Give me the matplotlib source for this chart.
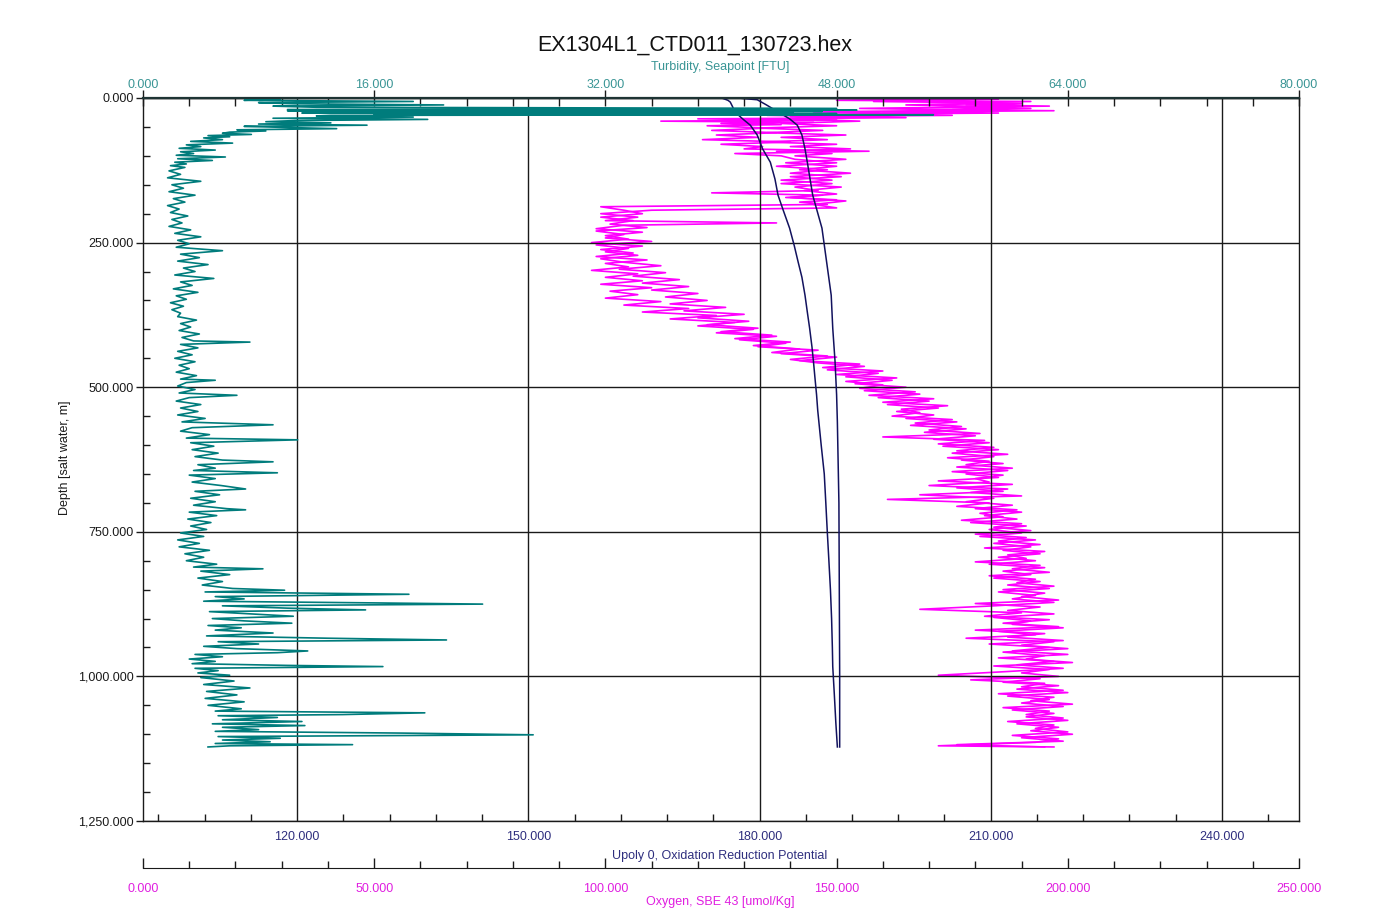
import matplotlib

matplotlib.use("Agg")
import matplotlib.pyplot as plt
from matplotlib.ticker import FixedLocator, FuncFormatter, MultipleLocator

plt.rcParams["font.family"] = ["Liberation Sans", "DejaVu Sans"]

TITLE = "EX1304L1_CTD011_130723.hex"
TURB_LABEL = "Turbidity, Seapoint [FTU]"
ORP_LABEL = "Upoly 0, Oxidation Reduction Potential"
OXY_LABEL = "Oxygen, SBE 43 [umol/Kg]"
DEPTH_LABEL = "Depth [salt water, m]"

# --- turbidity profile (FTU) ---
TURB_DEPTH = [
    0, 2, 4, 6, 8, 10, 12, 14, 16, 18, 20,
    21, 22, 23, 24, 25, 26, 27, 28, 29, 30, 31,
    33, 35, 37, 39, 41, 43, 45, 47, 49, 51, 53,
    55, 57, 59, 61, 63, 65, 67, 69, 72, 75,
    78, 81, 84, 87, 90, 93, 96, 99, 102, 105,
    108, 111, 114, 117, 120, 126, 132, 138, 144, 150,
    156, 162, 168, 174, 180, 186, 192, 198, 204, 210,
    216, 222, 228, 234, 240, 246, 252, 258, 264, 270,
    276, 282, 288, 294, 300, 306, 312, 318, 324, 330,
    336, 342, 348, 354, 360, 366, 372, 378, 384, 390,
    396, 402, 408, 414, 420, 422, 426, 432, 438, 444,
    450, 456, 462, 468, 474, 480, 486, 488, 492, 498,
    504, 510, 514, 518, 524, 530, 536, 542, 548, 554,
    560, 565, 570, 576, 582, 588, 591, 596, 602, 608,
    614, 620, 626, 629, 634, 640, 644, 648, 652, 658, 664,
    670, 676, 680, 686, 692, 698, 704, 710, 712, 716, 722,
    728, 734, 740, 746, 752, 758, 764, 770, 776, 782, 788, 794,
    800, 806, 811, 814, 818, 824, 830, 836, 842, 848, 851, 854, 858,
    862, 866, 870, 873, 875, 878, 882, 885, 888, 892, 896, 900, 904,
    908, 912, 916, 920, 925, 930, 934, 937, 940, 944, 948, 952, 956, 959, 962,
    966, 970, 974, 978, 981, 983, 986, 990, 994, 998, 1002, 1008, 1014, 1020, 1026,
    1032, 1038, 1044, 1050, 1056, 1060, 1063, 1066, 1068, 1071, 1075, 1078, 1082, 1085, 1088,
    1092, 1095, 1098, 1101, 1104, 1107, 1110, 1113, 1116, 1118, 1120, 1122,
]
TURB_FTU = [
    6.7, 9.5, 7.0, 18.7, 8.0, 10.5, 20.8, 9.0, 12.0, 48.0, 10.0,
    49.4, 10.0, 47.0, 12.0, 45.0, 11.0, 48.0, 16.0, 54.7, 13.0, 12.0,
    18.7, 9.0, 19.7, 10.5, 8.5, 13.0, 8.0, 15.5, 7.0, 10.0, 13.4,
    6.5, 8.5, 6.0, 5.5, 7.5, 4.5, 6.0, 4.2, 5.5, 3.3,
    6.2, 3.0, 4.0, 2.5, 5.0, 2.6, 3.5, 2.3, 5.7, 2.4,
    4.8, 2.2, 3.0, 1.9, 2.9, 1.8, 2.6, 1.7, 4.0, 2.0,
    2.8, 1.8, 3.6, 2.1, 2.9, 1.7, 2.5, 1.9, 3.1, 2.0,
    2.7, 1.8, 3.3, 2.2, 4.0, 2.4, 3.2, 2.3, 5.5, 2.6,
    3.9, 2.4, 4.5, 2.8, 3.6, 2.2, 4.9, 2.6, 3.4, 2.1,
    3.8, 2.3, 3.0, 1.9, 2.8, 2.0, 2.6, 2.4, 3.7, 2.6,
    3.3, 2.5, 3.9, 2.7, 3.5, 7.4, 2.6, 3.8, 2.4, 3.4,
    2.2, 3.6, 2.5, 3.2, 2.3, 3.7, 2.6, 5.0, 3.0, 2.4,
    3.6, 2.5, 6.5, 3.2, 2.3, 4.0, 2.6, 3.8, 2.4, 4.3,
    2.7, 9.0, 3.4, 2.6, 4.6, 3.0, 10.7, 3.3, 4.9, 3.4,
    5.2, 3.6, 5.5, 9.0, 3.8, 5.0, 3.5, 9.3, 3.2, 5.0, 3.4,
    5.4, 7.1, 3.6, 5.3, 3.3, 5.0, 3.5, 5.8, 7.1, 3.2, 5.1,
    3.1, 4.7, 3.3, 4.4, 2.6, 4.2, 2.4, 3.9, 2.5, 4.6, 2.9, 4.2,
    3.0, 5.1, 3.5, 8.3, 4.0, 6.0, 3.8, 5.5, 4.1, 6.2, 9.8, 4.3, 18.4,
    5.0, 7.0, 4.2, 16.3, 23.5, 5.5, 10.0, 15.4, 4.6, 7.5, 10.4, 4.8, 7.0,
    10.3, 4.5, 6.8, 5.0, 9.0, 4.4, 12.8, 21.0, 5.2, 8.0, 4.2, 6.5, 11.4, 9.3, 3.6,
    5.5, 3.2, 5.0, 3.4, 10.0, 16.6, 3.6, 5.2, 3.8, 6.0, 4.0, 6.3, 4.2, 7.4, 4.4,
    6.5, 4.3, 7.0, 4.5, 6.8, 5.0, 19.5, 13.8, 5.2, 9.3, 5.5, 11.0, 4.8, 11.2, 5.5,
    8.0, 5.0, 17.9, 27.0, 5.2, 9.5, 5.5, 8.8, 5.0, 14.5, 6.0, 4.5,
]

# --- oxygen, downcast (umol/kg) ---
OXY_D_DEPTH = [
    0, 2, 4, 6, 8, 10, 12, 14, 16, 18, 20, 22, 24, 26, 28, 30, 32, 34, 36, 38, 40, 42, 44,
    46, 48, 52, 56, 60, 64, 68, 72, 76, 80, 84, 88, 92, 96, 100,
    106, 112, 118, 124, 130, 136, 142, 148, 154, 160, 164, 168, 172, 176, 180, 184,
    188, 194, 200, 206, 212, 218, 224, 230, 236, 242, 248, 254, 260, 266, 272, 278,
    284, 290, 296, 302, 308, 314, 320, 326, 332, 338, 344, 350, 356, 362, 368,
    374, 380, 386, 392, 398, 404, 410, 416, 422, 428, 434, 440, 446, 452,
    458, 464, 470, 476, 482, 488, 494, 500, 506, 512, 518, 524, 530, 536, 542,
    548, 554, 560, 566, 572, 578, 584, 590, 596, 602,
    608, 614, 620, 626, 632, 638, 644, 650, 656, 662, 668, 674, 680, 686, 692,
    698, 704, 710, 716, 722, 728, 734, 740, 746, 752,
    758, 764, 770, 776, 782, 788, 794, 800, 806, 812, 818, 824, 830, 836, 842,
    848, 854, 860, 866, 872, 878, 884, 890, 896, 902,
    908, 914, 920, 926, 932, 938, 944, 950, 956, 962, 968, 974, 980, 986, 992,
    998, 1004, 1010, 1016, 1022, 1028, 1034, 1040, 1046, 1052,
    1058, 1064, 1070, 1076, 1082, 1088, 1094, 1100, 1106, 1112, 1118, 1122,
]
OXY_D = [
    160, 185, 150, 192, 170, 190, 178, 196, 175, 192, 168, 197, 160, 185, 150, 175, 140, 165, 120, 150, 112, 145, 125,
    138, 122, 135, 123, 137, 124, 133, 121, 140, 125, 134, 130, 157, 128, 138,
    141, 150, 137, 148, 140, 151, 138, 149, 141, 146, 123, 147, 139, 150, 142, 148,
    99, 104, 108, 99, 106, 101, 109, 98, 104, 100, 110, 98, 105, 100, 107, 99,
    104, 112, 103, 113, 106, 116, 108, 118, 110, 120, 113, 122, 114, 126, 117,
    130, 120, 131, 122, 133, 125, 136, 128, 140, 132, 142, 136, 148, 140,
    146, 156, 148, 159, 152, 162, 154, 165, 156, 168, 159, 170, 161, 172, 163,
    171, 165, 176, 166, 178, 169, 180, 171, 183, 173,
    185, 175, 184, 177, 186, 176, 187, 178, 185, 172, 188, 176, 186, 168, 184,
    178, 188, 180, 190, 182, 189, 179, 191, 183, 190,
    181, 193, 184, 192, 186, 194, 185, 193, 183, 195, 186, 192, 184, 194, 187,
    196, 185, 193, 188, 197, 184, 168, 190, 182, 196,
    186, 198, 180, 195, 187, 199, 183, 196, 188, 200, 185, 197, 189, 199, 186,
    172, 194, 186, 198, 189, 200, 187, 196, 190, 199,
    188, 197, 191, 200, 189, 198, 192, 201, 190, 199, 176, 195,
]

# --- oxygen, upcast (umol/kg) ---
OXY_U_DEPTH = [
    0, 3, 6, 9, 12, 15, 18, 21, 24, 27, 30, 33, 36,
    40, 44, 48, 52, 56, 60, 64, 68, 72, 76, 80, 84, 88, 92, 96, 100,
    106, 112, 118, 124, 130, 136, 142, 148, 154, 160, 166, 172, 178, 184, 190, 194,
    200, 206, 212, 216, 220, 226, 232, 238, 244, 250, 256, 262, 268,
    274, 280, 286, 292, 298, 304, 310, 316, 322, 328, 334, 340, 346,
    352, 358, 364, 370, 376, 382, 388, 394, 400, 406, 412, 418, 424, 430, 436, 442, 448, 454,
    460, 466, 472, 478, 484, 490, 496, 502, 508, 514, 520, 526, 532, 538, 544,
    550, 556, 562, 568, 574, 580, 586, 592, 598, 604,
    610, 616, 622, 628, 634, 640, 646, 652, 658, 664, 670, 676, 682, 688, 694,
    700, 706, 712, 718, 724, 730, 736, 742, 748, 754,
    760, 766, 772, 778, 784, 790, 796, 802, 808, 814, 820, 826, 832, 838, 844,
    850, 856, 862, 868, 874, 880, 886, 892, 898, 904,
    910, 916, 922, 928, 934, 940, 946, 952, 958, 964, 970, 976, 982, 988, 994,
    1000, 1006, 1012, 1018, 1024, 1030, 1036, 1042, 1048, 1054,
    1060, 1066, 1072, 1078, 1084, 1090, 1096, 1102, 1108, 1114, 1120, 1122,
]
OXY_U = [
    145, 175, 158, 190, 165, 185, 155, 180, 145, 170, 135, 160, 140,
    155, 138, 150, 133, 147, 135, 152, 138, 148, 134, 150, 140, 153, 137, 149, 141,
    152, 139, 150, 142, 153, 140, 149, 138, 151, 143, 150, 140, 152, 145, 150, 110,
    99, 107, 100, 137, 104, 98, 108, 100, 105, 97, 108, 99, 106,
    98, 109, 100, 105, 97, 107, 100, 108, 99, 110, 101, 107, 100,
    112, 104, 118, 108, 124, 114, 128, 120, 132, 124, 137, 129, 139, 133, 146, 138, 150, 142,
    155, 147, 160, 150, 163, 152, 160, 155, 167, 157, 171, 160, 174, 164, 168,
    162, 175, 167, 177, 170, 181, 160, 182, 172, 184,
    176, 187, 174, 183, 178, 188, 175, 186, 180, 183, 170, 187, 179, 190, 161,
    183, 176, 189, 181, 186, 177, 190, 184, 192, 180,
    191, 185, 194, 182, 195, 187, 191, 180, 194, 188, 196, 183, 193, 189, 197,
    186, 195, 190, 198, 180, 194, 187, 197, 184, 192,
    188, 199, 185, 193, 178, 197, 190, 200, 186, 195, 191, 201, 184, 196, 190,
    198, 179, 195, 190, 199, 185, 197, 192, 201, 186,
    196, 191, 199, 187, 197, 193, 200, 188, 198, 193, 172, 197,
]

# --- oxidation reduction potential, two casts ---
ORP_D_DEPTH = [0, 4, 7, 15, 24, 36, 47, 64, 88, 111, 140, 168, 195, 225, 255,
               283, 310, 341, 370, 398, 430, 456, 485, 513, 540, 560, 600, 650,
               700, 752, 800, 850, 900, 950, 983, 1030, 1080, 1122]
ORP_D = [175.1, 175.9, 176.2, 176.5, 176.8, 177.8, 178.8, 179.7, 180.4, 181.4,
         182.0, 182.4, 183.1, 183.9, 184.5, 185.0, 185.5, 185.9, 186.2, 186.5,
         186.8, 187.0, 187.2, 187.4, 187.55, 187.7, 188.0, 188.4, 188.6, 188.8,
         189.0, 189.2, 189.35, 189.45, 189.5, 189.7, 189.9, 190.1]
ORP_U_DEPTH = [0, 1, 3, 12, 24, 36, 47, 64, 88, 111, 168, 225, 283, 341, 398,
               456, 513, 560, 700, 850, 1000, 1122]
ORP_U = [177.3, 177.9, 179.7, 180.9, 182.4, 183.9, 184.9, 185.5, 185.9, 186.2,
         186.9, 188.1, 188.7, 189.3, 189.5, 189.8, 190.0, 190.1, 190.3, 190.35,
         190.4, 190.4]

TEAL, TEAL_TXT = "#007C7C", "#3A9595"
NAVY, NAVY_TXT = "#12125E", "#2E2E7E"
MAGENTA, MAG_TXT = "#FF00FF", "#E01FE0"
INK = "#1A1A1A"

W, H = 1389, 909
L, R, T, B = 143, 1299, 98, 821


def fx(px):
    return px / W


def fy(py):
    return 1 - py / H


fig = plt.figure(figsize=(W / 100, H / 100), dpi=100, facecolor="white")
ax = fig.add_axes([fx(L), fy(B), (R - L) / W, (B - T) / H])
ax_o = ax.twiny()
ax_t = ax.twiny()
for a in (ax, ax_o, ax_t):
    a.patch.set_visible(False)
ax_o.set_zorder(0)
ax.set_zorder(1)
ax_t.set_zorder(2)

# main axes: ORP along the bottom, depth on the left
ax.set_xlim(100, 250)
ax.set_ylim(1250, 0)
ax.plot(ORP_D, ORP_D_DEPTH, color=NAVY, lw=1.1)
ax.plot(ORP_U, ORP_U_DEPTH, color=NAVY, lw=1.1)
ax.xaxis.set_major_locator(FixedLocator([120, 150, 180, 210, 240]))
ax.xaxis.set_minor_locator(MultipleLocator(6))
ax.xaxis.set_major_formatter(FuncFormatter(lambda v, p: f"{v:.3f}"))
ax.yaxis.set_major_locator(MultipleLocator(250))
ax.yaxis.set_minor_locator(MultipleLocator(50))
ax.yaxis.set_major_formatter(FuncFormatter(lambda v, p: f"{v:,.3f}"))
ax.xaxis.tick_bottom()
ax.yaxis.tick_left()
ax.tick_params(axis="x", which="major", length=0, pad=7.5, labelsize=9,
               labelcolor=NAVY_TXT)
ax.tick_params(axis="x", which="minor", direction="in", length=5, width=1,
               color=INK)
ax.tick_params(axis="y", which="major", direction="out", length=5, width=1,
               pad=1.5, labelsize=9, labelcolor=INK, color=INK)
ax.tick_params(axis="y", which="minor", direction="in", length=5, width=1,
               color=INK)
ax.grid(True, which="major", color=INK, lw=1)
for s in ax.spines.values():
    s.set_color(INK)
    s.set_linewidth(1)

# oxygen: second bottom axis, hung below the plot
ax_o.set_xlim(0, 250)
ax_o.plot(OXY_D, OXY_D_DEPTH, color=MAGENTA, lw=1.2)
ax_o.plot(OXY_U, OXY_U_DEPTH, color=MAGENTA, lw=1.2)
ax_o.xaxis.tick_bottom()
ax_o.xaxis.set_label_position("bottom")
ax_o.spines["bottom"].set_position(("outward", 47 * 0.72))
for side in ("top", "left", "right"):
    ax_o.spines[side].set_visible(False)
ax_o.spines["bottom"].set_color(INK)
ax_o.xaxis.set_major_locator(MultipleLocator(50))
ax_o.xaxis.set_minor_locator(MultipleLocator(10))
ax_o.xaxis.set_major_formatter(FuncFormatter(lambda v, p: f"{v:.3f}"))
ax_o.tick_params(axis="x", which="major", direction="in", length=7.5, width=1,
                 pad=11, labelsize=9, labelcolor=MAG_TXT, color=INK)
ax_o.tick_params(axis="x", which="minor", direction="in", length=5, width=1,
                 color=INK)

# turbidity: top axis
ax_t.set_xlim(0, 80)
ax_t.plot(TURB_FTU, TURB_DEPTH, color=TEAL, lw=1.2)
ax_t.xaxis.set_major_locator(MultipleLocator(16))
ax_t.xaxis.set_minor_locator(MultipleLocator(3.2))
ax_t.xaxis.set_major_formatter(FuncFormatter(lambda v, p: f"{v:.3f}"))
ax_t.tick_params(axis="x", which="major", direction="inout", length=11, width=1,
                 pad=-0.8, labelsize=9, labelcolor=TEAL_TXT, color=INK)
ax_t.tick_params(axis="x", which="minor", direction="in", length=6, width=1,
                 color=INK)
for side in ("bottom", "left", "right"):
    ax_t.spines[side].set_visible(False)
ax_t.spines["top"].set_color("#1E3434")
ax_t.spines["top"].set_linewidth(1.6)

# titles
fig.text(fx(695), fy(45), TITLE, ha="center", va="center", fontsize=15.5,
         color="#111111")
fig.text(fx(720), fy(67), TURB_LABEL, ha="center", va="center", fontsize=9,
         color=TEAL_TXT)
fig.text(fx(720), fy(856), ORP_LABEL, ha="center", va="center", fontsize=9,
         color=NAVY_TXT)
fig.text(fx(720), fy(905), OXY_LABEL, ha="center", va="baseline", fontsize=9,
         color=MAG_TXT)
fig.text(fx(65), fy(458), DEPTH_LABEL, ha="center", va="center", rotation=90,
         fontsize=9, color=INK)

fig.savefig("out.png", dpi=100, facecolor="white")
